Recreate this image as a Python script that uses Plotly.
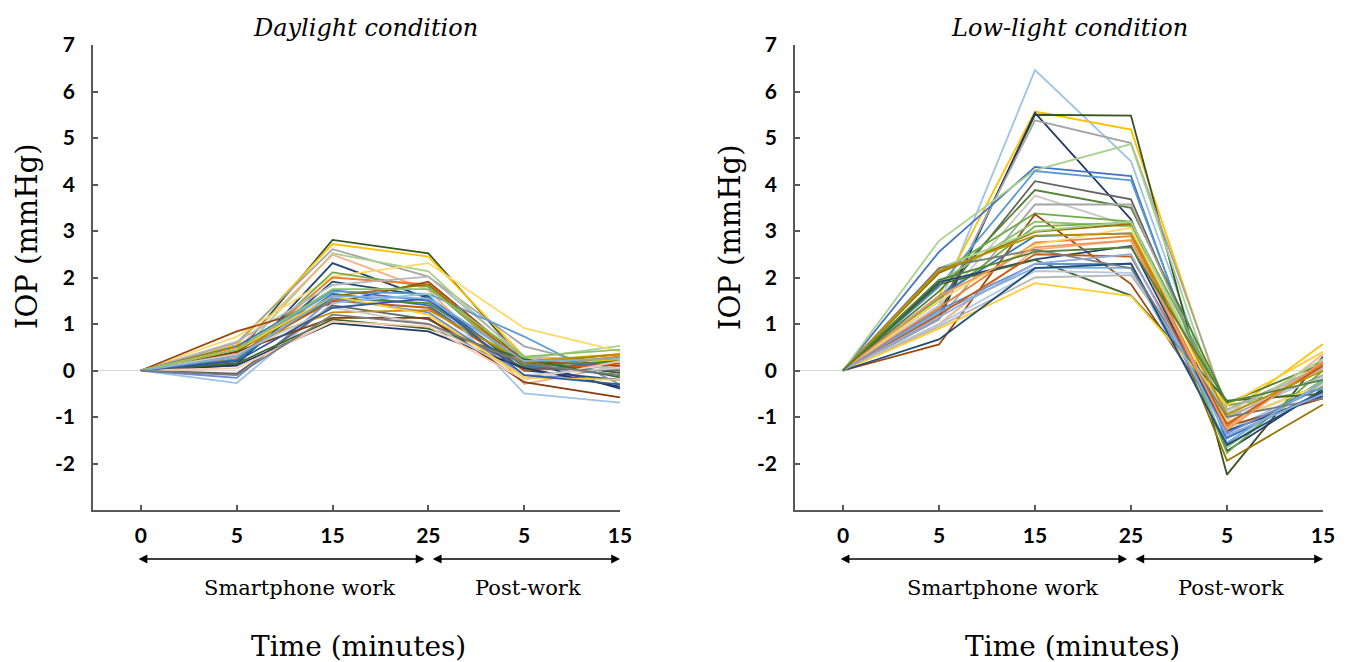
import plotly.graph_objects as go

W, H = 1349, 662
OFF = 8  # page body margin in the viewer

time_labels = ["0", "5", "15", "25", "5", "15"]
y_ticks = [-2, -1, 0, 1, 2, 3, 4, 5, 6, 7]

# Daylight condition: IOP change (mmHg) per subject
daylight_iop = [
    [0, 0.35, 2.81, 2.52, 0.20, -0.05],
    [0, 0.55, 2.72, 2.45, 0.30, 0.20],
    [0, 0.60, 2.61, 2.02, 0.52, 0.00],
    [0, 0.30, 2.52, 2.13, 0.25, 0.53],
    [0, 0.45, 2.49, 1.73, -0.29, 0.10],
    [0, 0.11, 2.31, 1.55, 0.20, -0.39],
    [0, 0.73, 2.02, 2.31, 0.91, 0.41],
    [0, 0.20, 2.11, 1.80, 0.05, 0.30],
    [0, 0.25, 2.00, 1.85, 0.10, 0.30],
    [0, 0.15, 1.91, 1.60, 0.00, -0.20],
    [0, 0.62, 1.84, 2.02, 0.30, 0.00],
    [0, 0.84, 1.45, 1.91, 0.20, 0.10],
    [0, 0.52, 1.73, 1.50, 0.10, -0.10],
    [0, 0.41, 1.70, 1.65, 0.73, -0.30],
    [0, 0.23, 1.65, 1.40, 0.00, 0.20],
    [0, 0.41, 1.60, 1.85, 0.15, 0.35],
    [0, 0.30, 1.55, 1.45, 0.10, 0.20],
    [0, 0.35, 1.50, 1.35, 0.00, 0.15],
    [0, -0.27, 1.45, 1.65, -0.49, -0.69],
    [0, -0.16, 1.55, 1.25, -0.10, -0.20],
    [0, -0.07, 1.40, 1.10, 0.05, 0.00],
    [0, 0.11, 1.02, 0.84, 0.05, -0.35],
    [0, 0.40, 1.13, 1.13, -0.25, -0.58],
    [0, 0.50, 1.25, 1.30, 0.20, 0.35],
    [0, 0.15, 1.10, 0.90, 0.25, -0.15],
    [0, 0.05, 1.05, 0.95, -0.20, 0.20],
    [0, 0.35, 1.35, 1.00, -0.10, 0.05],
    [0, 0.45, 1.60, 1.20, -0.15, -0.20],
    [0, 0.20, 1.35, 1.55, -0.10, -0.30],
    [0, 0.45, 1.75, 1.75, 0.30, 0.45],
    [0, 0.30, 1.60, 1.55, 0.20, 0.25],
    [0, -0.10, 1.20, 1.00, 0.15, -0.10],
]

# Low-light condition: IOP change (mmHg) per subject
lowlight_iop = [
    [0, 1.40, 6.46, 4.50, -1.30, -0.30],
    [0, 1.60, 5.57, 5.18, -0.95, 0.57],
    [0, 1.20, 5.50, 5.48, -2.24, 0.30],
    [0, 1.10, 5.54, 3.25, -1.73, -0.40],
    [0, 1.30, 5.38, 4.89, -0.84, 0.10],
    [0, 2.55, 4.38, 4.18, -1.56, -0.20],
    [0, 2.79, 4.31, 4.87, -1.20, 0.20],
    [0, 1.80, 4.29, 4.09, -1.40, -0.50],
    [0, 1.50, 4.07, 3.68, -1.10, -0.30],
    [0, 1.70, 3.88, 3.50, -0.70, 0.15],
    [0, 1.40, 3.76, 3.10, -1.05, 0.05],
    [0, 1.10, 3.57, 3.57, -1.00, -0.10],
    [0, 2.10, 3.38, 3.20, -0.75, -0.40],
    [0, 0.56, 3.36, 1.86, -1.20, -0.60],
    [0, 1.90, 3.20, 3.10, -1.65, -0.20],
    [0, 2.10, 2.98, 3.15, -1.94, -0.73],
    [0, 1.55, 3.10, 3.18, -1.77, 0.00],
    [0, 1.60, 2.89, 2.95, -1.45, -0.45],
    [0, 1.35, 2.75, 2.89, -1.20, 0.15],
    [0, 1.50, 2.71, 3.07, -1.10, -0.30],
    [0, 1.00, 2.60, 2.80, -1.25, 0.35],
    [0, 1.90, 2.39, 2.68, -1.30, -0.55],
    [0, 1.85, 2.38, 1.61, -0.65, -0.50],
    [0, 1.30, 2.29, 2.29, -1.35, -0.35],
    [0, 1.25, 2.21, 2.21, -1.55, -0.25],
    [0, 1.00, 2.14, 2.10, -0.90, -0.15],
    [0, 0.95, 2.00, 2.05, -0.85, 0.05],
    [0, 0.90, 1.88, 1.60, -0.75, 0.40],
    [0, 1.20, 2.50, 2.45, -1.15, 0.10],
    [0, 0.67, 2.20, 2.30, -1.60, -0.45],
    [0, 2.20, 3.00, 3.20, -1.00, 0.25],
    [0, 2.20, 2.60, 2.20, -1.00, -0.60],
    [0, 1.60, 2.65, 2.80, -1.28, 0.20],
    [0, 1.15, 2.30, 2.50, -1.40, -0.50],
    [0, 2.15, 2.90, 2.95, -0.95, 0.00],
    [0, 1.95, 2.55, 2.65, -0.68, -0.20],
]

daylight_colors = [
    "#375623", "#FFC000", "#A5A5A5", "#A9D18E", "#F4B183", "#264478",
    "#FFD966", "#70AD47", "#ED7D31", "#1F4E79", "#B7B7B7", "#9E480E",
    "#4472C4", "#5B9BD5", "#2E75B6", "#997300", "#548235", "#C55A11",
    "#9DC3E6", "#698ED0", "#636363", "#203864", "#843C0C", "#BF9000",
    "#43682B", "#F8CBAD", "#C9C9C9", "#FFCD33", "#335AA1", "#8CC168",
    "#7CAFDD", "#7B7B7B",
]
lowlight_colors = [
    "#9DC3E6", "#FFC000", "#375623", "#203864", "#A5A5A5", "#4472C4",
    "#A9D18E", "#5B9BD5", "#636363", "#548235", "#C9C9C9", "#A5A5A5",
    "#70AD47", "#9E480E", "#8CC168", "#997300", "#70AD47", "#2E75B6",
    "#ED7D31", "#FFD966", "#F4B183", "#264478", "#43682B", "#698ED0",
    "#7CAFDD", "#B4C7E7", "#B7B7B7", "#FFCD33", "#C55A11", "#1F4E79",
    "#A9D18E", "#7B7B7B", "#F1975A", "#8FAADC", "#BF9000", "#548235",
]

xpos = list(range(len(time_labels)))

fig = go.Figure()
for vals, col in zip(daylight_iop, daylight_colors):
    fig.add_trace(go.Scatter(x=xpos, y=vals, mode="lines", xaxis="x", yaxis="y",
                             line=dict(color=col, width=1.8), showlegend=False,
                             hoverinfo="skip"))
for vals, col in zip(lowlight_iop, lowlight_colors):
    fig.add_trace(go.Scatter(x=xpos, y=vals, mode="lines", xaxis="x2", yaxis="y2",
                             line=dict(color=col, width=1.8), showlegend=False,
                             hoverinfo="skip"))

def px(p):
    return (p - OFF) / W

def py(p):
    return 1 - (p - OFF) / H

ydom = [py(510), py(45)]
axis_col = "#595959"
tickfont = dict(family="Lato", size=21, color="black", weight=700)

def xaxis_cfg(dom, anchor):
    return dict(domain=dom, anchor=anchor, range=[-0.5, 5.0], tickmode="array",
                tickvals=xpos, ticktext=time_labels, ticks="inside", ticklen=5,
                tickwidth=1.5, tickcolor=axis_col, showline=True, linecolor=axis_col,
                linewidth=1.5, showgrid=False, zeroline=False, tickfont=tickfont,
                ticklabelstandoff=6, fixedrange=True, automargin=False)

def yaxis_cfg(anchor):
    return dict(domain=ydom, anchor=anchor, range=[-3, 7], tickmode="array",
                tickvals=y_ticks, ticktext=[str(v) for v in y_ticks], ticks="inside",
                ticklen=5, tickwidth=1.5, tickcolor=axis_col, showline=True,
                linecolor=axis_col, linewidth=1.5, showgrid=False, zeroline=True,
                zerolinecolor="#D9D9D9", zerolinewidth=1, tickfont=tickfont,
                ticklabelstandoff=12, fixedrange=True, automargin=False)

serif = "DejaVu Serif"
annotations = []
panels = [
    # xref, axis left px, axis right px, title, title centre, x-title centre, y-title centre
    ("x", 93, 620, "Daylight condition", 365, 358, 27),
    ("x2", 795, 1323, "Low-light condition", 1069, 1072, 730),
]
for xref, x0, x1, title, tcx, xtcx, ytcx in panels:
    annotations.append(dict(text=f"<i>{title}</i>", x=px(tcx), y=py(28),
                            xref="paper", yref="paper", showarrow=False,
                            font=dict(family=serif, size=24, color="black"),
                            xanchor="center", yanchor="middle"))
    annotations.append(dict(text="IOP (mmHg)", x=px(ytcx), y=py(237), xref="paper",
                            yref="paper", showarrow=False, textangle=-90,
                            font=dict(family=serif, size=29, color="black"),
                            xanchor="center", yanchor="middle"))
    annotations.append(dict(text="Time (minutes)", x=px(xtcx), y=py(646),
                            xref="paper", yref="paper", showarrow=False,
                            font=dict(family=serif, size=28, color="black"),
                            xanchor="center", yanchor="middle"))
    annotations.append(dict(text="Smartphone work", x=1.66, y=py(588), xref=xref,
                            yref="paper", showarrow=False,
                            font=dict(family=serif, size=21, color="black"),
                            xanchor="center", yanchor="middle"))
    annotations.append(dict(text="Post-work", x=4.04, y=py(588), xref=xref,
                            yref="paper", showarrow=False,
                            font=dict(family=serif, size=21, color="black"),
                            xanchor="center", yanchor="middle"))
    for a, b in [(-0.04, 2.96), (3.03, 5.0)]:
        annotations.append(dict(text="", x=b, y=py(559), xref=xref, yref="paper",
                                ax=a, ay=0, axref=xref, ayref="pixel",
                                showarrow=True, arrowside="end+start", arrowhead=2,
                                arrowsize=1.1, arrowwidth=1.6, arrowcolor="black"))

fig.update_layout(
    width=W, height=H, margin=dict(l=0, r=0, t=0, b=0, autoexpand=False),
    paper_bgcolor="white", plot_bgcolor="white",
    xaxis=xaxis_cfg([px(93), px(620)], "y"),
    yaxis=yaxis_cfg("x"),
    xaxis2=xaxis_cfg([px(795), px(1323)], "y2"),
    yaxis2=yaxis_cfg("x2"),
    annotations=annotations,
    showlegend=False,
)

fig.write_html("out.html")
